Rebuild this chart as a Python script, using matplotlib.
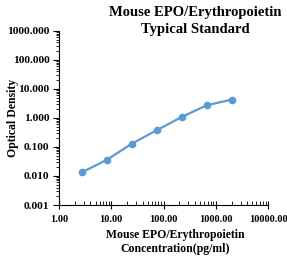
import numpy as np
import matplotlib
matplotlib.use('Agg')
import matplotlib.pyplot as plt
from matplotlib.ticker import LogLocator, FormatStrFormatter, NullFormatter

# Dữ liệu đường chuẩn
conc = [2.74, 8.23, 24.7, 74.1, 222.2, 666.7, 2000.0]
od = [0.0134, 0.036, 0.13, 0.377, 1.08, 2.74, 4.27]

plt.rcParams['font.family'] = ['Liberation Serif', 'DejaVu Serif']
plt.rcParams['font.weight'] = 'bold'

fig = plt.figure(figsize=(2.87, 2.60), dpi=100)
ax = fig.add_axes([0.2056, 0.2115, 0.7284, 0.6695])

ax.plot(conc, od, color='#5B9BD5', linewidth=1.6, marker='o', markersize=4.5,
        markeredgecolor='#5B9BD5', markerfacecolor='#5B9BD5')

ax.set_xscale('log')
ax.set_yscale('log')
ax.set_xlim(1, 10000)
ax.set_ylim(0.001, 1000)

ax.xaxis.set_major_locator(LogLocator(base=10, numticks=10))
ax.yaxis.set_major_locator(LogLocator(base=10, numticks=10))
ax.xaxis.set_minor_locator(LogLocator(base=10, subs=np.arange(2, 10), numticks=20))
ax.yaxis.set_minor_locator(LogLocator(base=10, subs=np.arange(2, 10), numticks=20))
ax.xaxis.set_major_formatter(FormatStrFormatter('%.2f'))
ax.yaxis.set_major_formatter(FormatStrFormatter('%.3f'))
ax.xaxis.set_minor_formatter(NullFormatter())
ax.yaxis.set_minor_formatter(NullFormatter())

ax.tick_params(axis='x', which='major', direction='inout', length=6, width=0.8, labelsize=7.5, pad=4)
ax.tick_params(axis='x', which='minor', direction='in', length=3, width=0.6)
ax.tick_params(axis='y', which='major', direction='out', length=4, width=0.8, labelsize=8.2, pad=3)
ax.tick_params(axis='y', which='minor', direction='out', length=2, width=0.6)

for s in ['top', 'right']:
    ax.spines[s].set_visible(False)
for s in ['left', 'bottom']:
    ax.spines[s].set_linewidth(0.8)

fig.text(0.045, 0.545, 'Optical Density', rotation=90, ha='center', va='center',
         fontsize=8.5, fontweight='bold')

fig.text(0.68, 0.978, 'Mouse EPO/Erythropoietin\nTypical Standard', ha='center', va='top',
         fontsize=10.5, fontweight='bold', linespacing=1.4)
fig.text(0.61, 0.018, 'Mouse EPO/Erythropoietin\nConcentration(pg/ml)', ha='center', va='bottom',
         fontsize=8.5, fontweight='bold', linespacing=1.25)

plt.savefig('out.png', dpi=100)
